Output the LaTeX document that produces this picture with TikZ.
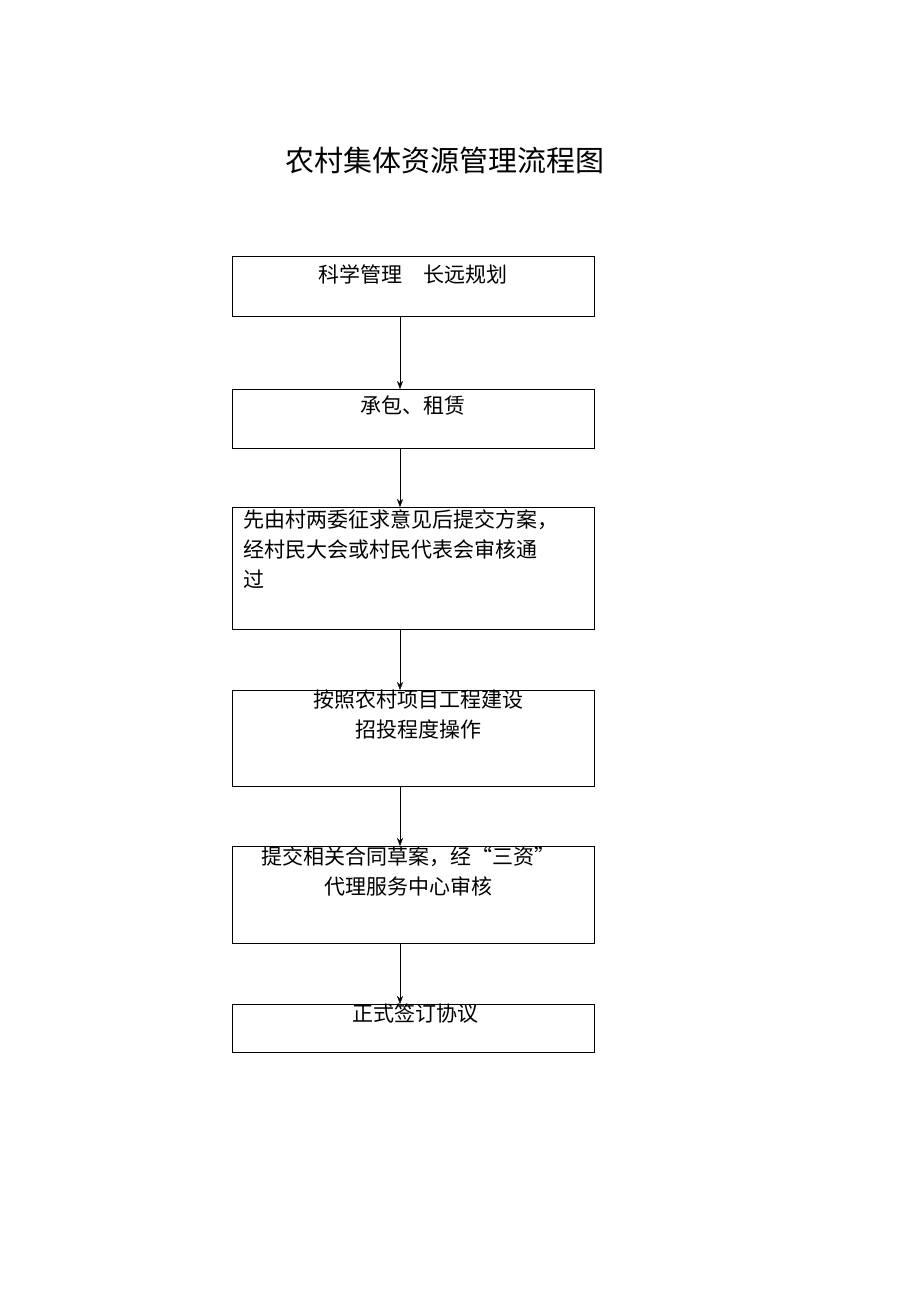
\documentclass[tikz,border=0pt]{standalone}
\usepackage{fontspec}
\setmainfont{Noto Sans CJK SC}
\usetikzlibrary{arrows.meta}
\tikzset{
  stepbox/.style={draw,thick,minimum width=362pt,anchor=north,inner sep=0pt},
  steptext/.style={anchor=north,font=\fontsize{21}{30}\selectfont,align=center,inner sep=0pt},
  flow/.style={draw,-{Stealth[length=8pt,width=6pt]}}
}
\begin{document}
\begin{tikzpicture}[x=1pt,y=-1pt]
  \useasboundingbox (0,0) rectangle (920,1302);
  \node[font=\fontsize{29}{34}\selectfont] (title) at (445,160) {农村集体资源管理流程图};
  % boxes
  \node[stepbox,minimum height=60pt] (b1) at (413,256) {};
  \node[stepbox,minimum height=59pt] (b2) at (413,389) {};
  \node[stepbox,minimum height=122pt] (b3) at (413,507) {};
  \node[stepbox,minimum height=96pt] (b4) at (413,690) {};
  \node[stepbox,minimum height=97pt] (b5) at (413,846) {};
  \node[stepbox,minimum height=48pt] (b6) at (413,1004) {};
  % texts
  \node[steptext] (t1) at (413,264) {科学管理\quad 长远规划};
  \node[steptext] (t2) at (413,396) {承包、租赁};
  \node[steptext,anchor=north west,align=left] (t3) at (243,509) {先由村两委征求意见后提交方案，\\经村民大会或村民代表会审核通\\过};
  \node[steptext] (t4) at (418,690) {按照农村项目工程建设\\招投程度操作};
  \node[steptext] (t5) at (408,846) {提交相关合同草案，经“三资”\\代理服务中心审核};
  \node[steptext] (t6) at (415,1004) {正式签订协议};
  % arrows
  \foreach \a/\b in {b1/b2,b2/b3,b3/b4,b4/b5,b5/b6}
    \draw[flow] (\a.south -| 400,0) -- (\b.north -| 400,0);
\end{tikzpicture}
\end{document}
